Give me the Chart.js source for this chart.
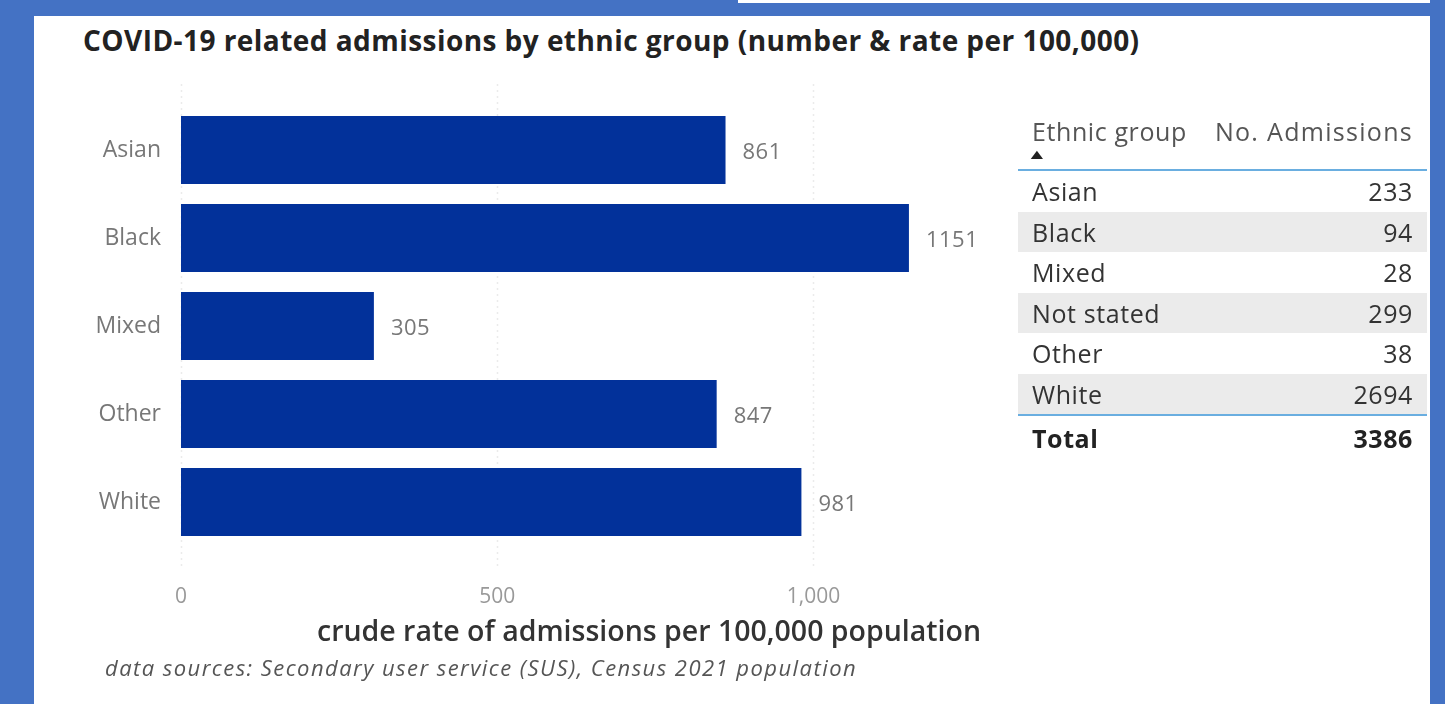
<!DOCTYPE html>
<html>
<head>
<meta charset="utf-8">
<script src="https://cdn.jsdelivr.net/npm/chart.js@4.4.1/dist/chart.umd.min.js"></script>
<style>
  html, body { margin: 0; padding: 0; }
  body { width: 1445px; height: 704px; background: #4472c4; position: relative; overflow: hidden; font-family: "Open Sans", sans-serif; }
  #strip { position: absolute; left: 738px; top: 0; width: 692px; height: 3px; background: #fff; }
  #panel { position: absolute; left: 34px; top: 16px; width: 1396px; height: 688px; background: #fff; }
  #title { position: absolute; left: 83px; top: 21px; font-size: 28px; font-weight: 700; color: #222; letter-spacing: 0.45px; white-space: nowrap; }
  #source { position: absolute; left: 105px; top: 652px; font-size: 22px; font-style: italic; color: #555; letter-spacing: 1.45px; white-space: nowrap; }
  #chartBox { position: absolute; left: 0; top: 0; width: 1445px; height: 704px; }
  #tbl { position: absolute; left: 1018px; top: 114px; width: 409px; border-collapse: collapse; font-size: 25px; letter-spacing: 0.6px; color: #333; }
  #tbl th { font-weight: 400; color: #555; height: 55px; padding: 0 14px; vertical-align: top; text-align: left; white-space: nowrap; border-bottom: 2px solid #6aaee0; position: relative; }
  #tbl th.num { text-align: right; padding-right: 14px; letter-spacing: 1.3px; }
  #tbl th .arrow { position: absolute; left: 12px; top: 30px; font-size: 14px; color: #222; transform: scaleX(1.5); }
  #tbl td { height: 40.5px; padding: 0 14px; line-height: 40px; }
  #tbl td.num { text-align: right; }
  #tbl tr.alt td { background: #ebebeb; }
  #tbl tr.last td { border-bottom: 2px solid #6aaee0; }
  #tbl tr.total td { font-weight: 700; color: #222; height: 44px; }
</style>
</head>
<body>
<div id="strip"></div>
<div id="panel"></div>
<div id="title">COVID-19 related admissions by ethnic group (number &amp; rate per 100,000)</div>
<div id="chartBox"><canvas id="rateChart"></canvas></div>
<table id="tbl">
  <thead><tr><th>Ethnic group<span class="arrow">&#9650;</span></th><th class="num">No. Admissions</th></tr></thead>
  <tbody id="tblBody"></tbody>
</table>
<div id="source">data sources: Secondary user service (SUS), Census 2021 population</div>

<script>
// crude admission rate per 100,000 population
const groups = ['Asian', 'Black', 'Mixed', 'Other', 'White'];
const rates = [861, 1151, 305, 847, 981];
const xTicks = [0, 500, 1000];

// admissions count table
const tableGroups = ['Asian', 'Black', 'Mixed', 'Not stated', 'Other', 'White'];
const admissions = [233, 94, 28, 299, 38, 2694];
const totalAdmissions = 3386;

// build the table rows
const body = document.getElementById('tblBody');
tableGroups.forEach(function(g, i) {
    const tr = document.createElement('tr');
    if (i % 2 === 1) tr.className = 'alt';
    if (i === tableGroups.length - 1) tr.className += ' last';
    tr.innerHTML = '<td>' + g + '</td><td class="num">' + admissions[i] + '</td>';
    body.appendChild(tr);
});
const totalRow = document.createElement('tr');
totalRow.className = 'total';
totalRow.innerHTML = '<td>Total</td><td class="num">' + totalAdmissions + '</td>';
body.appendChild(totalRow);

// dotted vertical gridlines that run a bit past the plot area
const dottedGrid = {
    id: 'dottedGrid',
    beforeDatasetsDraw(chart) {
        const ctx = chart.ctx;
        const x = chart.scales.x;
        const area = chart.chartArea;
        ctx.save();
        ctx.strokeStyle = '#ebebeb';
        ctx.lineWidth = 1.5;
        ctx.setLineDash([2, 4]);
        xTicks.forEach(function(v) {
            const px = Math.round(x.getPixelForValue(v)) + 0.5;
            ctx.beginPath();
            ctx.moveTo(px, area.top - 22);
            ctx.lineTo(px, area.bottom + 20);
            ctx.stroke();
        });
        ctx.restore();
    }
};

// value labels just past the end of each bar
const endLabels = {
    id: 'endLabels',
    afterDatasetsDraw(chart) {
        const ctx = chart.ctx;
        const meta = chart.getDatasetMeta(0);
        ctx.save();
        ctx.font = '22px "Open Sans"';
        ctx.letterSpacing = '0.5px';
        ctx.fillStyle = '#777';
        ctx.textAlign = 'left';
        ctx.textBaseline = 'middle';
        meta.data.forEach(function(bar, i) {
            ctx.fillText(String(rates[i]), bar.x + 17, bar.y + 3);
        });
        ctx.restore();
    }
};

new Chart(document.getElementById('rateChart'), {
    type: 'bar',
    data: {
        labels: groups,
        datasets: [{
            data: rates,
            backgroundColor: '#02319a',
            borderWidth: 0,
            barPercentage: 0.77,
            categoryPercentage: 1
        }]
    },
    options: {
        indexAxis: 'y',
        responsive: true,
        maintainAspectRatio: false,
        animation: false,
        layout: { padding: { top: 106, right: 328, bottom: 46, left: 0 } },
        plugins: { legend: { display: false }, tooltip: { enabled: false } },
        scales: {
            x: {
                min: 0,
                max: 1480,
                afterBuildTicks: function(scale) {
                    scale.ticks = xTicks.map(function(v) { return { value: v }; });
                },
                afterFit: function(scale) { scale.height = 112; },
                grid: { display: false, drawTicks: false },
                border: { display: false },
                ticks: {
                    padding: 38,
                    color: '#999',
                    font: { family: 'Open Sans', size: 21 },
                    callback: function(v) { return v.toLocaleString('en-US'); }
                },
                title: {
                    display: true,
                    text: 'crude rate of admissions per 100,000 population',
                    color: '#333',
                    font: { family: 'Open Sans', size: 28.5, weight: '600' },
                    padding: { top: 0, bottom: 8 }
                }
            },
            y: {
                afterFit: function(scale) { scale.width = 181; },
                grid: { display: false, drawTicks: false },
                border: { display: false },
                ticks: {
                    padding: 20,
                    color: '#777',
                    font: { family: 'Open Sans', size: 23 }
                }
            }
        }
    },
    plugins: [dottedGrid, endLabels]
});
</script>
</body>
</html>
